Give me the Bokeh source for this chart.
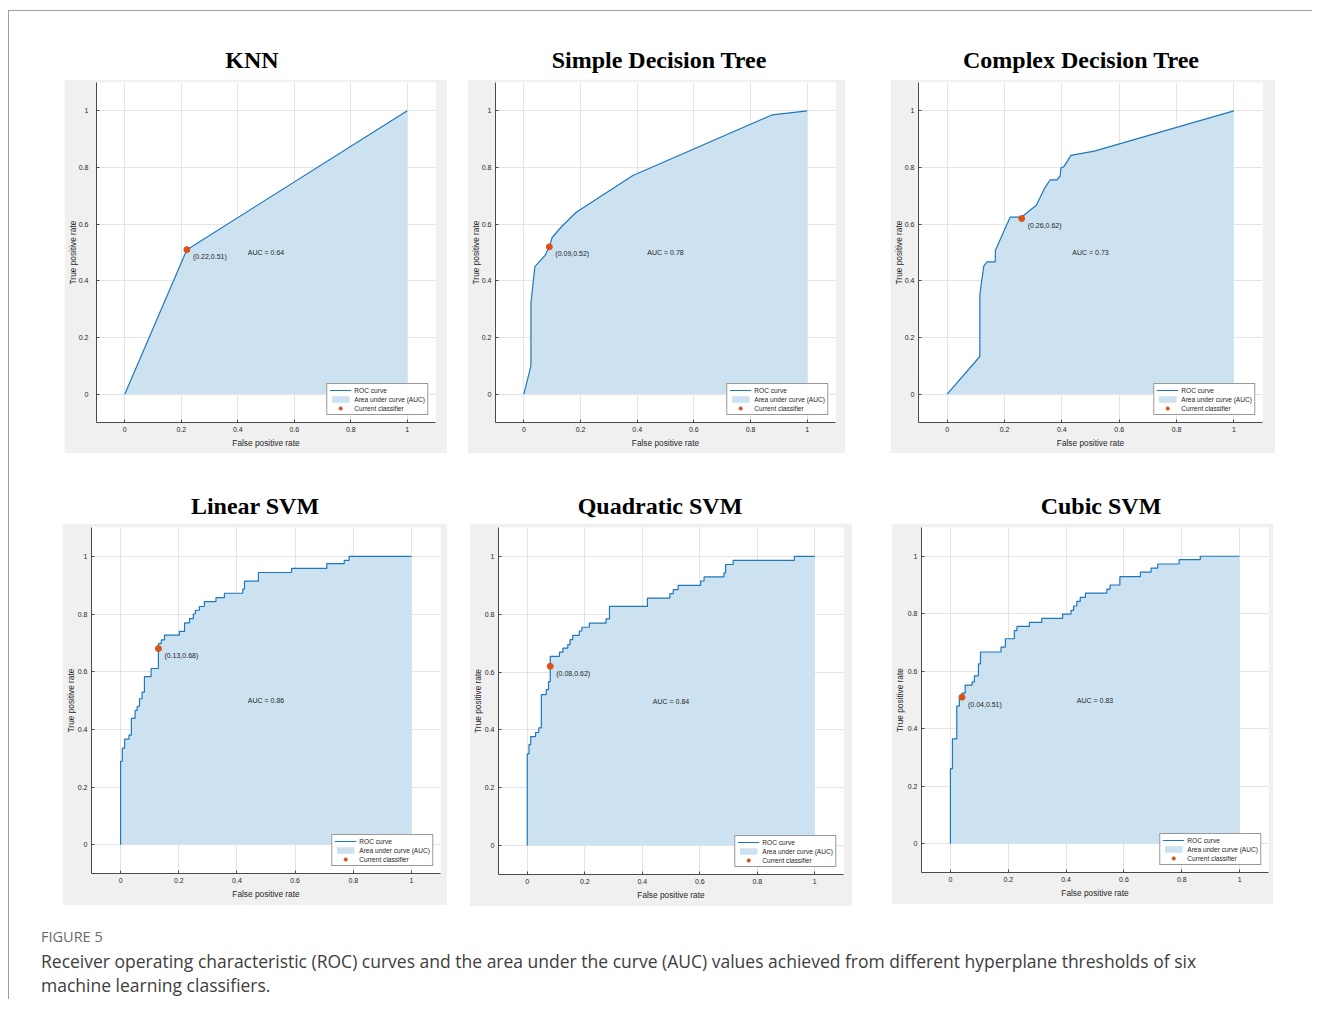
from bokeh.plotting import figure
from bokeh.layouts import column, row
from bokeh.models import (Range1d, FixedTicker, NumeralTickFormatter, Legend,
                          LegendItem, Spacer, Div)
from bokeh.core.properties import value
from bokeh.embed import file_html
from bokeh.resources import INLINE

# ---------------- data ----------------
titles = ["KNN", "Simple Decision Tree", "Complex Decision Tree",
          "Linear SVM", "Quadratic SVM", "Cubic SVM"]
auc_values = [0.64, 0.78, 0.73, 0.86, 0.84, 0.83]
op_fpr = [0.22, 0.09, 0.26, 0.13, 0.08, 0.04]
op_tpr = [0.51, 0.52, 0.62, 0.68, 0.62, 0.51]
tick_values = [0, 0.2, 0.4, 0.6, 0.8, 1]

knn_fpr = [0, 0.22, 1]
knn_tpr = [0, 0.51, 1]

sdt_fpr = [0, 0.025, 0.025, 0.039, 0.075, 0.09, 0.10, 0.132, 0.185, 0.385, 0.877, 1]
sdt_tpr = [0, 0.10, 0.32, 0.45, 0.49, 0.52, 0.553, 0.59, 0.642, 0.772, 0.986, 1]

cdt_fpr = [0, 0.114, 0.114, 0.119, 0.128, 0.139, 0.168, 0.168, 0.22, 0.26, 0.311,
           0.34, 0.359, 0.382, 0.394, 0.397, 0.407, 0.432, 0.513, 1]
cdt_tpr = [0, 0.133, 0.35, 0.39, 0.453, 0.467, 0.467, 0.507, 0.625, 0.625, 0.667,
           0.727, 0.756, 0.756, 0.769, 0.798, 0.803, 0.843, 0.858, 1]

# step points (fpr where the curve rises, tpr reached after the rise)
lsvm_fpr = [0, 0.006, 0.014, 0.029, 0.037, 0.05, 0.057, 0.065, 0.074, 0.082, 0.105,
            0.13, 0.14, 0.151, 0.202, 0.22, 0.237, 0.25, 0.257, 0.271, 0.288, 0.328,
            0.357, 0.42, 0.426, 0.474, 0.588, 0.709, 0.769, 0.786, 1]
lsvm_tpr = [0.289, 0.335, 0.366, 0.38, 0.438, 0.466, 0.48, 0.506, 0.529, 0.583, 0.611,
            0.697, 0.71, 0.727, 0.74, 0.769, 0.784, 0.8, 0.813, 0.826, 0.843, 0.857,
            0.872, 0.886, 0.914, 0.944, 0.958, 0.975, 0.986, 1.0, 1.0]

qsvm_fpr = [0, 0.006, 0.012, 0.029, 0.04, 0.049, 0.066, 0.074, 0.08, 0.112, 0.124,
            0.141, 0.149, 0.158, 0.181, 0.19, 0.216, 0.274, 0.286, 0.418, 0.496, 0.508,
            0.525, 0.603, 0.615, 0.684, 0.69, 0.716, 0.929, 1]
qsvm_tpr = [0.317, 0.349, 0.377, 0.391, 0.407, 0.522, 0.539, 0.567, 0.654, 0.669, 0.683,
            0.695, 0.712, 0.727, 0.742, 0.755, 0.769, 0.784, 0.827, 0.856, 0.871, 0.885,
            0.9, 0.915, 0.929, 0.943, 0.972, 0.986, 1.0, 1.0]

csvm_fpr = [0, 0.007, 0.022, 0.031, 0.04, 0.051, 0.075, 0.083, 0.097, 0.104, 0.175,
            0.19, 0.221, 0.23, 0.273, 0.316, 0.388, 0.417, 0.426, 0.437, 0.449, 0.467,
            0.541, 0.552, 0.586, 0.657, 0.694, 0.717, 0.791, 0.864, 1]
csvm_tpr = [0.261, 0.365, 0.479, 0.51, 0.524, 0.552, 0.563, 0.584, 0.626, 0.667, 0.684,
            0.713, 0.741, 0.756, 0.770, 0.784, 0.799, 0.812, 0.827, 0.843, 0.857, 0.872,
            0.886, 0.900, 0.929, 0.945, 0.959, 0.973, 0.988, 1.0, 1.0]

curves = [(knn_fpr, knn_tpr, "line"), (sdt_fpr, sdt_tpr, "line"),
          (cdt_fpr, cdt_tpr, "line"), (lsvm_fpr, lsvm_tpr, "stair"),
          (qsvm_fpr, qsvm_tpr, "stair"), (csvm_fpr, csvm_tpr, "stair")]

legend_labels = ["ROC curve", "Area under curve (AUC)", "Current classifier"]
caption_head = "FIGURE 5"
caption_line1 = ("Receiver operating characteristic (ROC) curves and the area under the curve "
                 "(AUC) values achieved from different hyperplane thresholds of six")
caption_line2 = "machine learning classifiers."

# ---------------- layout / style ----------------
PANEL_BG = "#f0f0f0"
LINE_C = "#1f77bd"
FILL_C = "#cde2f1"
PT_C = "#d95319"
TXT_C = "#262626"
SANS = "Liberation Sans"

fig_w = [383, 378, 385, 385, 383, 382]
fig_h = [374, 374, 374, 382, 383, 381]
borders = [(31, 12, 3, 31), (27, 10, 2, 29), (27, 13, 3, 25),
           (28, 7, 4, 28), (28, 9, 4, 32), (30, 5, 2, 25)]
ytick_standoff = [8, 4, 4, 4, 4, 4]
ylabel_standoff = [-2, -2, -2, -1, -1, 0]


def stair(xs, ys):
    vx, vy = [0.0], [0.0]
    for x, y in zip(xs, ys):
        vx += [x, x]
        vy += [vy[-1], y]
    return vx, vy


def build_panel(k):
    L, R, T, B = borders[k]
    p = figure(width=fig_w[k], height=fig_h[k],
               x_range=Range1d(-0.1, 1.1), y_range=Range1d(-0.1, 1.1),
               output_backend="svg", toolbar_location=None,
               min_border_left=L, min_border_right=R,
               min_border_top=T, min_border_bottom=B,
               background_fill_color="white", border_fill_color=PANEL_BG,
               outline_line_color=None,
               x_axis_label="False positive rate", y_axis_label="True positive rate")
    fx, fy, kind = curves[k]
    if kind == "stair":
        vx, vy = stair(fx, fy)
    else:
        vx, vy = list(fx), list(fy)

    area = p.varea(x=vx, y1=[0] * len(vx), y2=vy, fill_color=FILL_C, fill_alpha=1)
    ln = p.line(vx, vy, line_color=LINE_C, line_width=1.2)
    pt = p.scatter([op_fpr[k]], [op_tpr[k]], size=6, fill_color=PT_C,
                   line_color=PT_C, marker="circle")
    p.text(x=[op_fpr[k]], y=[op_tpr[k]],
           text=["(%.2f,%.2f)" % (op_fpr[k], op_tpr[k])],
           x_offset=6, y_offset=7, text_font=value(SANS), text_font_size="7px",
           text_baseline="middle", text_align="left", text_color=TXT_C)
    p.text(x=[0.5], y=[0.5], text=["AUC = %.2f" % auc_values[k]],
           text_font=value(SANS), text_font_size="7px", text_baseline="middle",
           text_align="center", text_color=TXT_C)

    ticker = FixedTicker(ticks=tick_values)
    for ax in p.axis:
        ax.ticker = ticker
        ax.formatter = NumeralTickFormatter(format="0.[0]")
        ax.major_label_text_font = SANS
        ax.major_label_text_font_size = "7px"
        ax.major_label_text_color = TXT_C
        ax.axis_label_text_font = SANS
        ax.axis_label_text_font_size = "8.3px"
        ax.axis_label_text_font_style = "normal"
        ax.axis_label_text_color = TXT_C
        ax.axis_line_color = "#4a4a4a"
        ax.major_tick_line_color = "#4a4a4a"
        ax.major_tick_in = 3
        ax.major_tick_out = 0
        ax.minor_tick_line_color = None
    p.xaxis.major_label_standoff = 4
    p.xaxis.axis_label_standoff = 3
    p.yaxis.major_label_standoff = ytick_standoff[k]
    p.yaxis.axis_label_standoff = ylabel_standoff[k]
    for g in (p.xgrid, p.ygrid):
        g.ticker = ticker
        g.grid_line_color = "#e4e4e4"
        g.grid_line_width = 1

    leg = Legend(items=[LegendItem(label=legend_labels[0], renderers=[ln]),
                        LegendItem(label=legend_labels[1], renderers=[area]),
                        LegendItem(label=legend_labels[2], renderers=[pt])],
                 location="bottom_right", margin=7, padding=2, spacing=1,
                 glyph_width=22, glyph_height=8, label_height=8, label_standoff=3,
                 label_text_font=SANS, label_text_font_size="6.6px",
                 label_text_color=TXT_C, border_line_color="#333333",
                 border_line_width=1, background_fill_color="white",
                 background_fill_alpha=1)
    p.add_layout(leg)
    return p


def title_div(text):
    html = ('<div style="width:300px;font-family:\'Liberation Serif\',serif;font-weight:bold;'
            'font-size:24px;line-height:30px;text-align:center;color:#000;'
            'white-space:nowrap;">%s</div>' % text)
    return Div(text=html, width=300, height=30, margin=0)


def sp(w, h):
    return Spacer(width=w, height=h, margin=0)


panels = [build_panel(k) for k in range(6)]

title_row1 = row(sp(93, 30), title_div(titles[0]), sp(107, 30), title_div(titles[1]),
                 sp(122, 30), title_div(titles[2]), spacing=0)
plot_row1 = row(sp(55, 374), panels[0], sp(20, 374), panels[1], sp(45, 374), panels[2],
                spacing=0)
title_row2 = row(sp(96, 30), title_div(titles[3]), sp(105, 30), title_div(titles[4]),
                 sp(141, 30), title_div(titles[5]), spacing=0)
plot_row2 = row(sp(53, 383), panels[3], sp(22, 383), panels[4], sp(39, 383), panels[5],
                spacing=0)

caption_html = (
    '<div style="font-family:\'Open Sans\',sans-serif;font-size:14.5px;line-height:20px;'
    'color:#6a6a6a;padding-left:32px;white-space:nowrap;">%s</div>'
    '<div style="font-family:\'Open Sans\',sans-serif;font-size:17.5px;line-height:24px;'
    'color:#3d3d3d;padding-left:32px;margin-top:2px;white-space:nowrap;">%s<br>%s</div>'
    % (caption_head, caption_line1, caption_line2))
caption = Div(text=caption_html, width=1300, height=72, margin=0)

content = column(sp(1300, 34), title_row1, sp(10, 4), plot_row1, sp(10, 38),
                 title_row2, sp(10, 2), plot_row2, sp(10, 21), caption, spacing=0)

top_line = Div(text="", width=1304, height=1, margin=0,
               styles={"background-color": "#9e9e9e"})
left_line = Div(text="", width=1, height=988, margin=0,
                styles={"background-color": "#9e9e9e"})

frame = column(sp(1304, 10), top_line, row(left_line, content, spacing=0), spacing=0)
root = row(sp(8, 999), frame, spacing=0)

open("out.html", "w").write(file_html(root, INLINE))
